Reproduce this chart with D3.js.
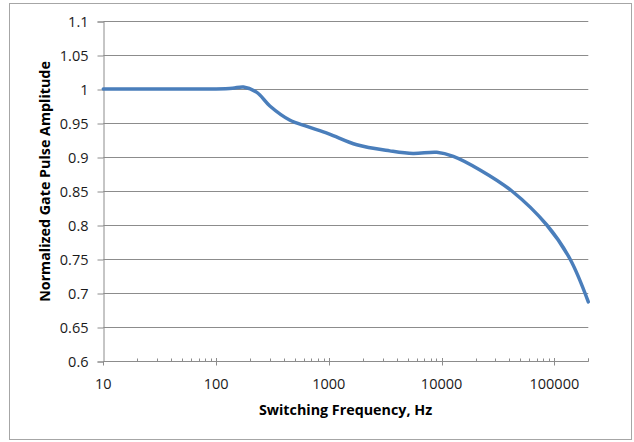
<!DOCTYPE html>
<html>
<head>
<meta charset="utf-8">
<script src="https://cdn.jsdelivr.net/npm/d3@7"></script>
<style>
  html, body { margin: 0; padding: 0; background: #fff; }
  svg { display: block; }
</style>
</head>
<body>
<div id="chart"></div>
<script>
// ---- Data ----
const frequencies = [10, 20, 50, 100, 140, 175, 230, 300, 453, 640, 1000, 1770, 3470, 5580, 9060, 12700, 21900, 42000, 85700, 137700, 200000];
const amplitudes  = [1.0, 1.0, 1.0, 1.0, 1.001, 1.003, 0.995, 0.975, 0.954, 0.945, 0.934, 0.918, 0.909, 0.905, 0.907, 0.901, 0.881, 0.850, 0.800, 0.750, 0.687];
const yTicks = [0.6, 0.65, 0.7, 0.75, 0.8, 0.85, 0.9, 0.95, 1, 1.05, 1.1];
const xMajorTicks = [10, 100, 1000, 10000, 100000];
const xTitle = "Switching Frequency, Hz";
const yTitle = "Normalized Gate Pulse Amplitude";

const W = 634, H = 442;
const plotLeft = 103.3, plotRight = 588.3, plotTop = 21, plotBottom = 361;

const svg = d3.select("#chart").append("svg").attr("width", W).attr("height", H);

// outer frame
svg.append("rect").attr("x", 9.5).attr("y", 3.5).attr("width", 622).attr("height", 436)
  .attr("fill", "#fff").attr("stroke", "#a6a6a6").attr("stroke-width", 1);

const x = d3.scaleLog().domain([10, 200000]).range([plotLeft, plotRight]);
const y = d3.scaleLinear().domain([0.6, 1.1]).range([plotBottom, plotTop]);

const font = "'Open Sans', 'Noto Sans', sans-serif";
const gridColor = "#8c8c8c";

// horizontal gridlines
svg.append("g").selectAll("line").data(yTicks.filter(d => d > 0.6)).join("line")
  .attr("x1", plotLeft).attr("x2", plotRight)
  .attr("y1", d => Math.round(y(d)) + 0.5).attr("y2", d => Math.round(y(d)) + 0.5)
  .attr("stroke", gridColor).attr("stroke-width", 1);

// y axis
const yAxis = d3.axisLeft(y).tickValues(yTicks).tickSize(6).tickPadding(9)
  .tickFormat(d => d3.format("~g")(d));
const gy = svg.append("g").attr("transform", `translate(${Math.round(plotLeft) + 0.5},0.5)`).call(yAxis);
gy.select(".domain").attr("stroke", gridColor);
gy.selectAll(".tick line").attr("stroke", gridColor);
gy.selectAll(".tick text").attr("font-family", font).attr("font-size", 14.5).attr("fill", "#1a1a1a");

// x axis: minor ticks (upward) and major ticks (crossing)
const allTicks = [];
for (let dec = 10; dec <= 100000; dec *= 10) {
  for (let m = 1; m <= 9; m++) {
    const v = dec * m;
    if (v <= 200000) allTicks.push(v);
  }
}
allTicks.push(200000);
const gx = svg.append("g").attr("transform", `translate(0,${Math.round(plotBottom) + 0.5})`);
gx.append("line").attr("x1", plotLeft).attr("x2", plotRight).attr("stroke", gridColor);
gx.selectAll("line.minor").data(allTicks.filter(d => !xMajorTicks.includes(d))).join("line")
  .attr("class", "minor")
  .attr("x1", d => Math.round(x(d)) + 0.5).attr("x2", d => Math.round(x(d)) + 0.5)
  .attr("y1", -3).attr("y2", 0).attr("stroke", gridColor);
gx.selectAll("line.major").data(xMajorTicks).join("line")
  .attr("class", "major")
  .attr("x1", d => Math.round(x(d)) + 0.5).attr("x2", d => Math.round(x(d)) + 0.5)
  .attr("y1", d => d === 10 ? 0 : -3.5).attr("y2", 4).attr("stroke", gridColor);
gx.selectAll("text").data(xMajorTicks).join("text")
  .attr("x", d => x(d)).attr("y", 27)
  .attr("text-anchor", "middle")
  .attr("font-family", font).attr("font-size", 14.5).attr("fill", "#1a1a1a")
  .text(d => d3.format("d")(d));

// line
const line = d3.line()
  .x((d, i) => x(frequencies[i]))
  .y(d => y(d))
  .curve(d3.curveCatmullRom.alpha(0.5));
svg.append("path").datum(amplitudes)
  .attr("d", line)
  .attr("fill", "none").attr("stroke", "#4a7ebb").attr("stroke-width", 3.5)
  .attr("stroke-linejoin", "round").attr("stroke-linecap", "round");

// titles
svg.append("text").attr("x", 345.5).attr("y", 415)
  .attr("text-anchor", "middle").attr("font-family", font).attr("font-weight", "bold")
  .attr("font-size", 14.3).attr("fill", "#000").text(xTitle);
svg.append("text").attr("transform", "translate(50,181.5) rotate(-90)")
  .attr("text-anchor", "middle").attr("font-family", font).attr("font-weight", "bold")
  .attr("font-size", 14.3).attr("fill", "#000").text(yTitle);
</script>
</body>
</html>
